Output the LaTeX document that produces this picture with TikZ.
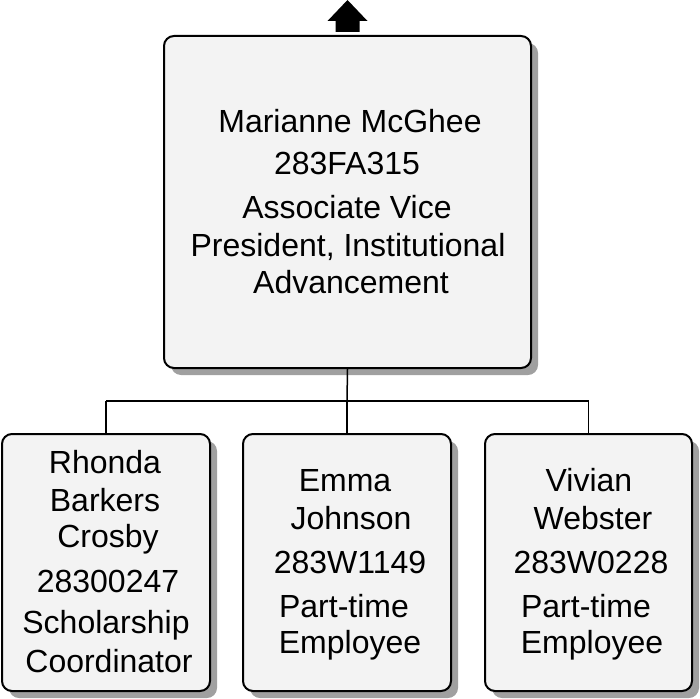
\documentclass[tikz,border=0pt]{standalone}
\usepackage{fontspec}
\setmainfont{Liberation Sans}
\usetikzlibrary{shadows}
\definecolor{boxfill}{HTML}{F3F3F3}
\definecolor{shadowgray}{HTML}{A0A0A0}
\begin{document}
\begin{tikzpicture}[x=1pt,y=-1pt,
  card/.style={draw=black, line width=2pt, fill=boxfill, rounded corners=10pt,
    inner sep=0pt,
    drop shadow={shadow xshift=7pt, shadow yshift=-7pt, fill=shadowgray, opacity=1}},
  txt/.style={anchor=base, inner sep=0pt, font=\fontsize{32}{37}\selectfont},
  conn/.style={draw=black, line width=1.5pt}]
\useasboundingbox (0,0) rectangle (700,698);
% boxes
\node[card, minimum width=367pt, minimum height=332pt] (top) at (347.5,202) {};
\node[card, minimum width=208pt, minimum height=257pt] (b1) at (106,562.5) {};
\node[card, minimum width=208pt, minimum height=257pt] (b2) at (347,562.5) {};
\node[card, minimum width=207pt, minimum height=257pt] (b3) at (588.5,562.5) {};
% up arrow
\fill[black, shift={(top.north)}] (-12,-3) -- (-12,-14) -- (-20,-14) -- (0,-35) -- (20,-14) -- (12,-14) -- (12,-3) -- cycle;
% connectors
\coordinate (bus) at (347,401);
\draw[conn] (top.south) -- (bus);
\draw[conn] (bus -| b1.north) -- (bus -| b3.north);
\draw[conn] (bus -| b1.north) -- (b1.north);
\draw[conn] (bus) -- (b2.north);
\draw[conn] (bus -| b3.north) -- (b3.north);
% top text
\node[txt] (t1) at (350,132) {Marianne McGhee};
\node[txt] (t2) at (347,174) {283FA315};
\node[txt] (t3) at (347,218) {Associate Vice};
\node[txt] (t4) at (348,256) {President, Institutional};
\node[txt] (t5) at (351,293) {Advancement};
% left text
\node[txt] (l1) at (105,473) {Rhonda};
\node[txt] (l2) at (105,511) {Barkers};
\node[txt] (l3) at (108,547) {Crosby};
\node[txt] (l4) at (108,592) {28300247};
\node[txt] (l5) at (106,633) {Scholarship};
\node[txt] (l6) at (109,672) {Coordinator};
% middle text
\node[txt] (m1) at (345,491) {Emma};
\node[txt] (m2) at (351,529) {Johnson};
\node[txt] (m3) at (350,573) {283W1149};
\node[txt] (m4) at (344,617) {Part-time};
\node[txt] (m5) at (350,653) {Employee};
% right text
\node[txt] (r1) at (589,491) {Vivian};
\node[txt] (r2) at (593,529) {Webster};
\node[txt] (r3) at (591,573) {283W0228};
\node[txt] (r4) at (586,617) {Part-time};
\node[txt] (r5) at (592,653) {Employee};
\end{tikzpicture}
\end{document}
